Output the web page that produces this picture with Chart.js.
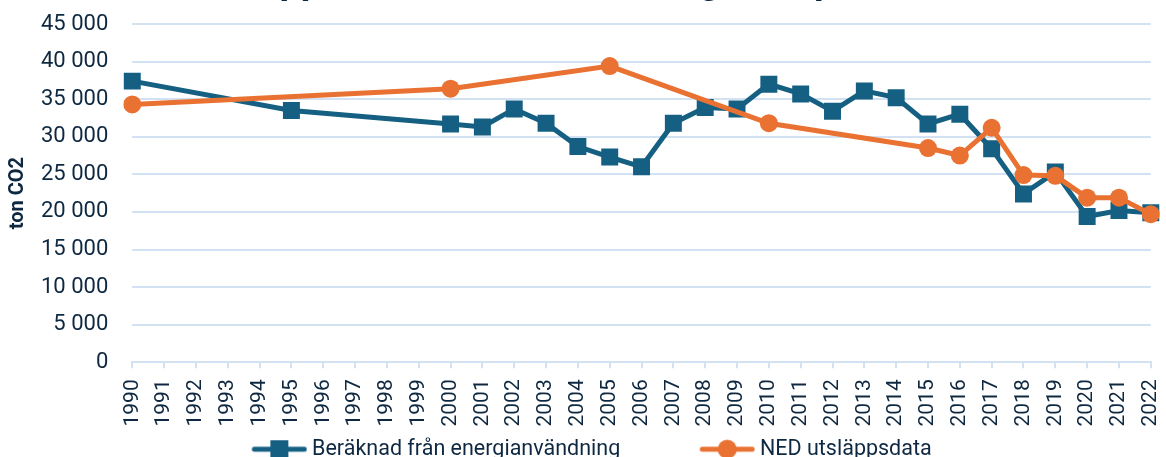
<!DOCTYPE html>
<html><head><meta charset="utf-8">
<script src="https://cdn.jsdelivr.net/npm/chart.js@4"></script>
<style>
html,body{margin:0;padding:0;background:#fff;overflow:hidden}
#wrap{position:relative;width:1166px;height:457px;overflow:hidden;background:#fff}
#box{position:absolute;left:0;top:-40px;width:1187px;height:510px}
</style></head><body>
<div id="wrap"><div id="box"><canvas id="c"></canvas></div></div>
<script>
const years = ['1990','1991','1992','1993','1994','1995','1996','1997','1998','1999','2000','2001','2002','2003','2004','2005','2006','2007','2008','2009','2010','2011','2012','2013','2014','2015','2016','2017','2018','2019','2020','2021','2022'];
const beraknad = [37400,null,null,null,null,33500,null,null,null,null,31700,31300,33700,31800,28700,27300,26000,31800,33900,33700,37000,35700,33400,36100,35200,31700,33000,28400,22400,25300,19400,20200,19900];
const ned = [34300,null,null,null,null,null,null,null,null,null,36400,null,null,null,null,39400,null,null,null,null,31800,null,null,null,null,28500,27500,31200,24900,24800,21900,21900,19700];
const seriesNames = ['Beräknad från energianvändning','NED utsläppsdata'];
const yAxisTitle = 'ton CO2';
const chartTitle = 'Utsläpp av koldioxid från energi, ton per år';

const BLUE = '#156082', ORANGE = '#E97132', TEXT = '#0E2841', GRID = '#D3E2F3';
const FONT = 'Roboto, "Liberation Sans", sans-serif';

// legend icon: line with marker; line ends 5px before the label text
const BOXW = 128;
function legendIcon(color, shape){
  const W = BOXW + 12;
  const c = document.createElement('canvas');
  c.width = W; c.height = 28;
  const g = c.getContext('2d');
  g.strokeStyle = color; g.lineWidth = 5; g.lineCap = 'round';
  g.beginPath(); g.moveTo(W - 53, 14); g.lineTo(W - 3, 14); g.stroke();
  g.fillStyle = color;
  const cx = W - 28;
  if (shape === 'rect') { g.fillRect(cx - 9, 5, 18, 18); }
  else { g.beginPath(); g.arc(cx, 14, 9.5, 0, Math.PI*2); g.fill(); }
  return c;
}
const icons = [legendIcon(BLUE,'rect'), legendIcon(ORANGE,'circle')];

new Chart(document.getElementById('c'), {
  type: 'line',
  data: {
    labels: years,
    datasets: [
      { label: seriesNames[0], data: beraknad, borderColor: BLUE, backgroundColor: BLUE,
        borderWidth: 5, pointStyle: 'rect', pointRadius: 12, pointBorderWidth: 0,
        pointBackgroundColor: BLUE, spanGaps: true, order: 1 },
      { label: seriesNames[1], data: ned, borderColor: ORANGE, backgroundColor: ORANGE,
        borderWidth: 5, pointStyle: 'circle', pointRadius: 9, pointBorderWidth: 0,
        pointBackgroundColor: ORANGE, spanGaps: true, order: 0 }
    ]
  },
  options: {
    responsive: true, maintainAspectRatio: false, animation: false, devicePixelRatio: 1,
    layout: { autoPadding: false, padding: { left: -47, right: 35, top: 0, bottom: 0 } },
    plugins: {
      tooltip: { enabled: false },
      title: { display: true, text: chartTitle, color: TEXT,
        font: { family: FONT, size: 38, weight: 'bold' }, padding: { top: 0.5, bottom: 17.9 } },
      legend: {
        position: 'bottom',
        labels: {
          usePointStyle: true, pointStyleWidth: BOXW, boxHeight: 23, padding: 1,
          color: TEXT, font: { family: FONT, size: 21.5 },
          sort: (a, b) => a.datasetIndex - b.datasetIndex,
          generateLabels(chart) {
            const items = Chart.defaults.plugins.legend.labels.generateLabels(chart);
            items.forEach(it => { it.pointStyle = icons[it.datasetIndex]; });
            return items;
          }
        }
      }
    },
    scales: {
      x: {
        grid: { drawOnChartArea: false, drawTicks: true, tickLength: 6, color: GRID, lineWidth: 2 },
        border: { display: true, color: GRID, width: 2 },
        ticks: { autoSkip: false, maxRotation: 90, minRotation: 90, padding: 11, color: TEXT,
          font: { family: FONT, size: 21 } }
      },
      y: {
        min: 0, max: 45000,
        grid: { color: GRID, lineWidth: 2, drawTicks: false },
        border: { display: false },
        ticks: { stepSize: 5000, padding: 24, color: TEXT, font: { family: FONT, size: 22 },
          callback: v => String(v).replace(/\B(?=(\d{3})+(?!\d))/g, ' ') },
        title: { display: true, text: yAxisTitle, color: TEXT,
          font: { family: FONT, size: 20, weight: 'bold' }, padding: { top: 53, bottom: -13 } }
      }
    }
  }
});
</script>
</body></html>
